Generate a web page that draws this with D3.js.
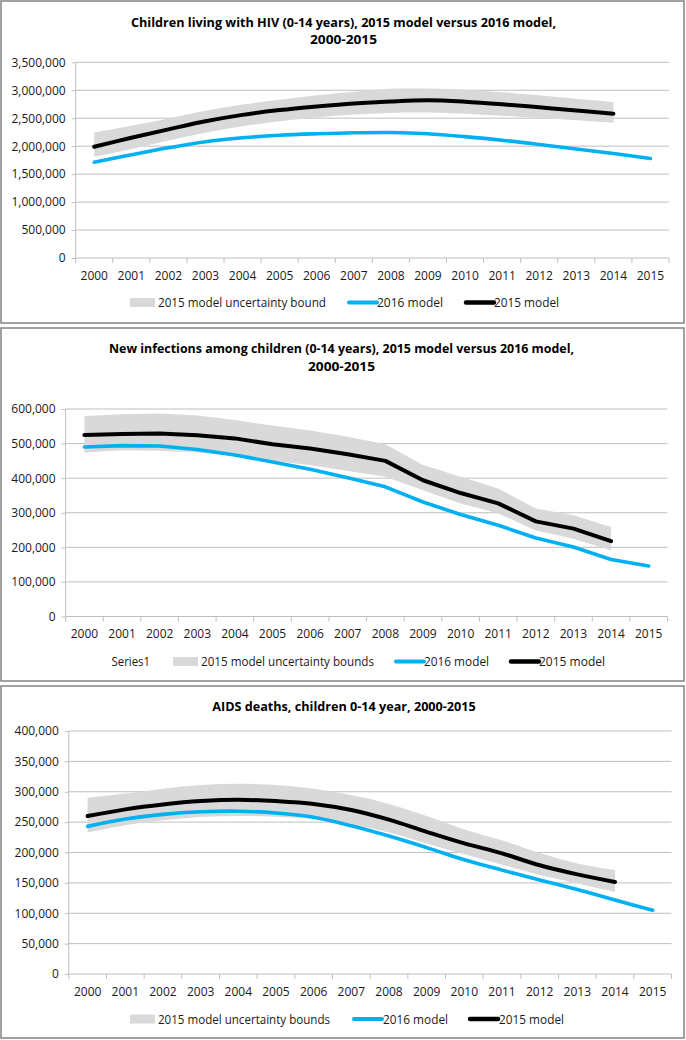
<!DOCTYPE html>
<html><head><meta charset="utf-8">
<script src="https://cdn.jsdelivr.net/npm/d3@7"></script>
<style>
body{margin:0;background:#fff}
svg text{font-family:"Open Sans",sans-serif}
</style>
</head><body>
<svg id="c" width="686" height="1040"></svg>
<script>
// ---------- DATA ----------
const years = ["2000","2001","2002","2003","2004","2005","2006","2007","2008","2009","2010","2011","2012","2013","2014","2015"];
const years2015 = years.slice(0, 15);

// Panel 1: Children living with HIV
const hiv2016 = [1714000,1845000,1970000,2080000,2150000,2196000,2222000,2240000,2245000,2222000,2170000,2107000,2030000,1948000,1868000,1780000];
const hiv2015 = [1990000,2150000,2300000,2445000,2560000,2645000,2710000,2765000,2800000,2820000,2795000,2750000,2695000,2640000,2580000];
const hivLow  = [1810000,1945000,2100000,2240000,2355000,2445000,2515000,2565000,2595000,2600000,2580000,2545000,2505000,2465000,2420000];
const hivHigh = [2245000,2365000,2495000,2635000,2745000,2830000,2910000,2975000,3025000,3030000,3010000,2965000,2910000,2850000,2790000];
const hivTicks = [0,500000,1000000,1500000,2000000,2500000,3000000,3500000];

// Panel 2: New infections among children
const inf2016 = [490000,494000,493000,483000,467000,447000,426000,401000,375000,331000,295000,264000,227000,201000,165000,146000];
const inf2015 = [525000,528000,529000,524000,515000,498000,486000,469000,450000,394000,357000,327000,275000,254000,218000];
const infLow  = [474000,481000,479000,474000,465000,450000,438000,421000,404000,365000,327000,298000,249000,225000,191000];
const infHigh = [580000,585000,587000,581000,568000,552000,538000,520000,498000,438000,404000,370000,312000,293000,259000];
const infTicks = [0,100000,200000,300000,400000,500000,600000];

// Panel 3: AIDS deaths, children
const dth2016 = [243000,255000,262800,267000,268000,265000,258000,244000,227000,208000,188000,171000,154700,139000,121800,105000];
const dth2015 = [260000,271000,279000,284600,286800,284600,280000,270000,254000,234000,215000,198600,179000,164000,151500];
const dthLow  = [233000,245000,253000,258500,260000,259000,255000,246000,233000,215000,197000,180000,163000,149000,135000];
const dthHigh = [290000,297000,305000,311000,313000,311000,305000,294600,280000,260000,238000,220000,199000,182000,171000];
const dthTicks = [0,50000,100000,150000,200000,250000,300000,350000,400000];

const titles = [
  ["Children living with HIV (0-14 years), 2015 model versus 2016 model,", "2000-2015"],
  ["New infections among children (0-14 years), 2015 model versus 2016 model,", "2000-2015"],
  ["AIDS deaths, children 0-14 year, 2000-2015"]
];
const legendLabels = [
  ["", "2015 model uncertainty bound", "2016 model", "2015 model"],
  ["Series1", "2015 model uncertainty bounds", "2016 model", "2015 model"],
  ["", "2015 model uncertainty bounds", "2016 model", "2015 model"]
];

// ---------- LAYOUT ----------
const BLUE = "#00b0f0", BLACK = "#000000", BAND = "#d9d9d9", GRID = "#bfbfbf";
const smooth = d3.curveCatmullRom.alpha(0.5);

const panels = [
  {box:[1,1,683,322], x0:75.7, x1:669, yTop:62.3, y0:258, ticks:hivTicks,
   s16:hiv2016, s15:hiv2015, lo:hivLow, hi:hivHigh, curve:smooth,
   title:titles[0], titleY:[22,39], titleW:[425,67], titleCx:343.5,
   xLabY:275, legY:302.5, leg:legendLabels[0],
   legX:{series1:null, patch:130, bandText:158, bandW:168, blue:349, blueText:377, blueW:66, black:466, blackText:494, blackW:65}},
  {box:[1,328,683,353], x0:65.6, x1:667.5, yTop:409, y0:616.5, ticks:infTicks,
   s16:inf2016, s15:inf2015, lo:infLow, hi:infHigh, curve:d3.curveLinear,
   title:titles[1], titleY:[348.5,366], titleW:[465,67], titleCx:341.5,
   xLabY:633.5, legY:661.5, leg:legendLabels[1],
   legX:{series1:111.5, series1W:38.5, patch:173, bandText:201, bandW:173, blue:396, blueText:424, blueW:65, black:511, blackText:539, blackW:66}},
  {box:[1,686,683,352], x0:68.8, x1:671.5, yTop:731, y0:974, ticks:dthTicks,
   s16:dth2016, s15:dth2015, lo:dthLow, hi:dthHigh, curve:smooth,
   title:titles[2], titleY:[706.5], titleW:[263.5], titleCx:344,
   xLabY:991.5, legY:1019, leg:legendLabels[2],
   legX:{series1:null, patch:130, bandText:158, bandW:172, blue:354, blueText:383, blueW:65, black:470, blackText:499, blackW:65}}
];

const svg = d3.select("#c");
svg.append("rect").attr("width",686).attr("height",1040).attr("fill","#fff");

panels.forEach(p => {
  const g = svg.append("g");
  g.append("rect").attr("x",p.box[0]).attr("y",p.box[1]).attr("width",p.box[2]).attr("height",p.box[3])
    .attr("fill","#fff").attr("stroke","#8a8a8a").attr("stroke-width",1.6);

  const x = d3.scaleBand().domain(years).range([p.x0, p.x1]).padding(0);
  const bw = x.bandwidth();
  const cx = d => x(d) + bw/2;
  const y = d3.scaleLinear().domain([0, d3.max(p.ticks)]).range([p.y0, p.yTop]);

  // gridlines
  g.selectAll(".grid").data(p.ticks.filter(t => t > 0)).join("line")
    .attr("x1", p.x0).attr("x2", p.x1)
    .attr("y1", d => y(d)).attr("y2", d => y(d))
    .attr("stroke", GRID).attr("stroke-width", 1);

  // uncertainty band
  const bandData = years2015.map((yr,i) => ({yr, lo:p.lo[i], hi:p.hi[i]}));
  g.append("path").datum(bandData)
    .attr("d", d3.area().x(d => cx(d.yr)).y0(d => y(d.lo)).y1(d => y(d.hi)).curve(p.curve))
    .attr("fill", BAND);

  // y axis
  const yAxis = d3.axisLeft(y).tickValues(p.ticks).tickSize(4).tickPadding(6).tickFormat(d3.format(","));
  const ya = g.append("g").attr("transform", `translate(${p.x0},0)`).call(yAxis);
  ya.select(".domain").attr("stroke", GRID).attr("d", `M-0,${p.yTop}V${p.y0}`);
  ya.selectAll(".tick line").attr("stroke", GRID);
  ya.selectAll(".tick text").attr("font-size", 12).attr("fill", "#1a1a1a")
    .attr("font-family", "'Open Sans',sans-serif");

  // x axis
  const xAxis = d3.axisBottom(x).tickSize(0).tickPadding(0);
  const xa = g.append("g").attr("transform", `translate(0,${p.y0})`).call(xAxis);
  xa.select(".domain").attr("stroke", GRID).attr("d", `M${p.x0},0H${p.x1}`);
  xa.selectAll(".tick text").attr("font-size", 12).attr("fill", "#1a1a1a")
    .attr("font-family", "'Open Sans',sans-serif")
    .attr("dy", null).attr("y", p.xLabY - p.y0).attr("dominant-baseline", "central");
  // boundary tick marks
  const bounds = years.map(d => x(d)).concat([p.x1]);
  g.selectAll(".bt").data(bounds).join("line")
    .attr("x1", d => d).attr("x2", d => d).attr("y1", p.y0).attr("y2", p.y0 + 5)
    .attr("stroke", GRID);

  // lines
  const line16 = years.map((yr,i) => ({yr, v:p.s16[i]}));
  const line15 = years2015.map((yr,i) => ({yr, v:p.s15[i]}));
  const lg = d3.line().x(d => cx(d.yr)).y(d => y(d.v)).curve(p.curve);
  g.append("path").datum(line16).attr("d", lg).attr("fill","none")
    .attr("stroke", BLUE).attr("stroke-width", 3.6).attr("stroke-linejoin","round").attr("stroke-linecap","round");
  g.append("path").datum(line15).attr("d", lg).attr("fill","none")
    .attr("stroke", BLACK).attr("stroke-width", 4).attr("stroke-linejoin","round").attr("stroke-linecap","round");

  // title
  p.title.forEach((t,i) => {
    g.append("text").attr("x", p.titleCx).attr("y", p.titleY[i]).attr("text-anchor","middle")
      .attr("dominant-baseline","central").attr("font-size", 12.5).attr("font-weight","bold")
      .attr("fill","#000").attr("textLength", p.titleW[i]).attr("lengthAdjust","spacingAndGlyphs")
      .text(t);
  });

  // legend
  const L = p.legX, ly = p.legY;
  const ltext = (xx, w, s) => g.append("text").attr("x", xx).attr("y", ly).attr("dominant-baseline","central")
      .attr("font-size", 12.5).attr("fill","#1a1a1a").attr("textLength", w).attr("lengthAdjust","spacingAndGlyphs").text(s);
  if (L.series1 !== null) ltext(L.series1, L.series1W, p.leg[0]);
  g.append("rect").attr("x", L.patch).attr("y", ly - 4.5).attr("width", 25).attr("height", 9).attr("fill", BAND);
  ltext(L.bandText, L.bandW, p.leg[1]);
  g.append("line").attr("x1", L.blue).attr("x2", L.blue + 28).attr("y1", ly).attr("y2", ly)
    .attr("stroke", BLUE).attr("stroke-width", 4).attr("stroke-linecap","round");
  ltext(L.blueText, L.blueW, p.leg[2]);
  g.append("line").attr("x1", L.black).attr("x2", L.black + 28).attr("y1", ly).attr("y2", ly)
    .attr("stroke", BLACK).attr("stroke-width", 4.5).attr("stroke-linecap","round");
  ltext(L.blackText, L.blackW, p.leg[3]);
});
</script>
</body></html>
